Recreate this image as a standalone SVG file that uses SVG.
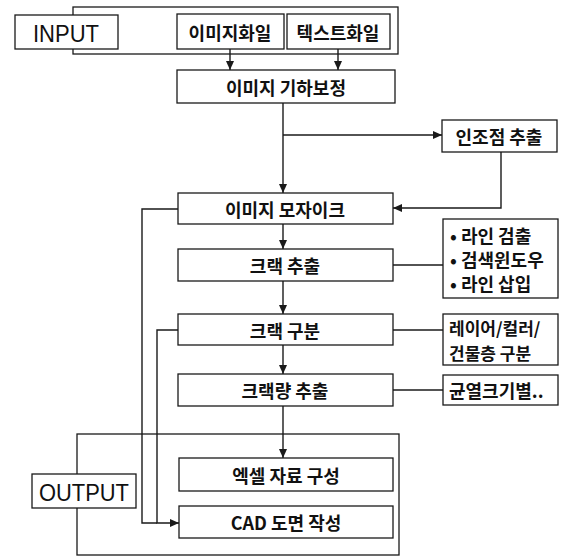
<svg xmlns="http://www.w3.org/2000/svg" width="562" height="557" viewBox="0 0 562 557">
<defs>
<marker id="ah" markerWidth="9" markerHeight="8" refX="9" refY="4" orient="auto" markerUnits="userSpaceOnUse">
<path d="M0,0 L9,4 L0,8 Z" fill="#1a1a1a"/>
</marker>
<style>
.box{fill:#fff;stroke:#1a1a1a;stroke-width:1.3}
.frame{fill:none;stroke:#1a1a1a;stroke-width:1.3}
.ln{fill:none;stroke:#1a1a1a;stroke-width:1.4}
.arr{fill:none;stroke:#1a1a1a;stroke-width:1.4;marker-end:url(#ah)}
.ko{font-family:"Noto Sans CJK KR","Noto Sans",sans-serif;font-size:18px;font-weight:bold;fill:#111;text-anchor:middle;dominant-baseline:central}
.en{font-family:"Liberation Sans",Arial,sans-serif;font-size:24px;fill:#111;text-anchor:middle;dominant-baseline:central}
.ko-l{font-family:"Noto Sans CJK KR","Noto Sans",sans-serif;font-size:18px;font-weight:bold;fill:#111;dominant-baseline:central}
.ko-s{font-family:"Noto Sans CJK KR","Noto Sans",sans-serif;font-size:17px;font-weight:bold;fill:#111;dominant-baseline:central}
</style>
</defs>
<rect width="562" height="557" fill="#fff"/>

<g id="input-frame"><rect class="frame" x="73" y="7" width="325" height="47"/></g>
<g id="output-frame"><rect class="frame" x="77" y="434" width="322" height="121"/></g>

<g id="connectors">
<line class="arr" x1="230" y1="49" x2="230" y2="70"/>
<line class="arr" x1="338" y1="49" x2="338" y2="70"/>
<line class="arr" x1="283" y1="103" x2="283" y2="193"/>
<polyline class="arr" points="283,135 442,135"/>
<polyline class="arr" points="501,152 501,208 393,208"/>
<line class="arr" x1="283" y1="224" x2="283" y2="249"/>
<line class="arr" x1="283" y1="281" x2="283" y2="314"/>
<line class="arr" x1="283" y1="345" x2="283" y2="374"/>
<line class="arr" x1="283" y1="406" x2="283" y2="458"/>
<polyline class="ln" points="178,209 142,209 142,523 157,523"/>
<polyline class="arr" points="178,330 157,330 157,523 179,523"/>
<line class="ln" x1="393" y1="265" x2="443" y2="265"/>
<line class="ln" x1="393" y1="330" x2="443" y2="330"/>
<line class="ln" x1="393" y1="390" x2="443" y2="390"/>
</g>

<g id="input"><rect class="box" x="15" y="15" width="103" height="34"/><text class="en" x="66" y="33" textLength="66" lengthAdjust="spacingAndGlyphs">INPUT</text></g>
<g id="image-file"><rect class="box" x="177" y="14" width="107" height="35"/><text class="ko" x="230" y="32">이미지화일</text></g>
<g id="text-file"><rect class="box" x="287" y="14" width="103" height="35"/><text class="ko" x="338" y="32">텍스트화일</text></g>
<g id="geo-correct"><rect class="box" x="177" y="70" width="218" height="33"/><text class="ko" x="286" y="87">이미지 기하보정</text></g>
<g id="gcp"><rect class="box" x="442" y="120" width="115" height="32"/><text class="ko" x="499" y="136">인조점 추출</text></g>
<g id="mosaic"><rect class="box" x="178" y="193" width="215" height="31"/><text class="ko" x="285" y="209">이미지 모자이크</text></g>
<g id="crack-extract"><rect class="box" x="178" y="249" width="215" height="32"/><text class="ko" x="285" y="265">크랙 추출</text></g>
<g id="line-notes"><rect class="box" x="443" y="219" width="115" height="79"/>
<text class="ko-l" x="450" y="235">• 라인 검출</text>
<text class="ko-l" x="450" y="259">• 검색윈도우</text>
<text class="ko-l" x="450" y="283">• 라인 삽입</text></g>
<g id="crack-classify"><rect class="box" x="178" y="314" width="215" height="31"/><text class="ko" x="285" y="330">크랙 구분</text></g>
<g id="layer-notes"><rect class="box" x="443" y="314" width="115" height="51"/>
<text class="ko-s" x="449" y="327">레이어/컬러/</text>
<text class="ko-s" x="449" y="352">건물층 구분</text></g>
<g id="crack-amount"><rect class="box" x="178" y="374" width="215" height="32"/><text class="ko" x="285" y="390">크랙량 추출</text></g>
<g id="size-notes"><rect class="box" x="443" y="375" width="115" height="30"/><text class="ko-l" x="449" y="390">균열크기별..</text></g>
<g id="output"><rect class="box" x="32" y="474" width="104" height="34"/><text class="en" x="84" y="492" textLength="90" lengthAdjust="spacingAndGlyphs">OUTPUT</text></g>
<g id="excel"><rect class="box" x="179" y="458" width="214" height="33"/><text class="ko" x="286" y="475">엑셀 자료 구성</text></g>
<g id="cad"><rect class="box" x="179" y="506" width="214" height="32"/><text class="ko" x="286" y="522">CAD 도면 작성</text></g>
</svg>
